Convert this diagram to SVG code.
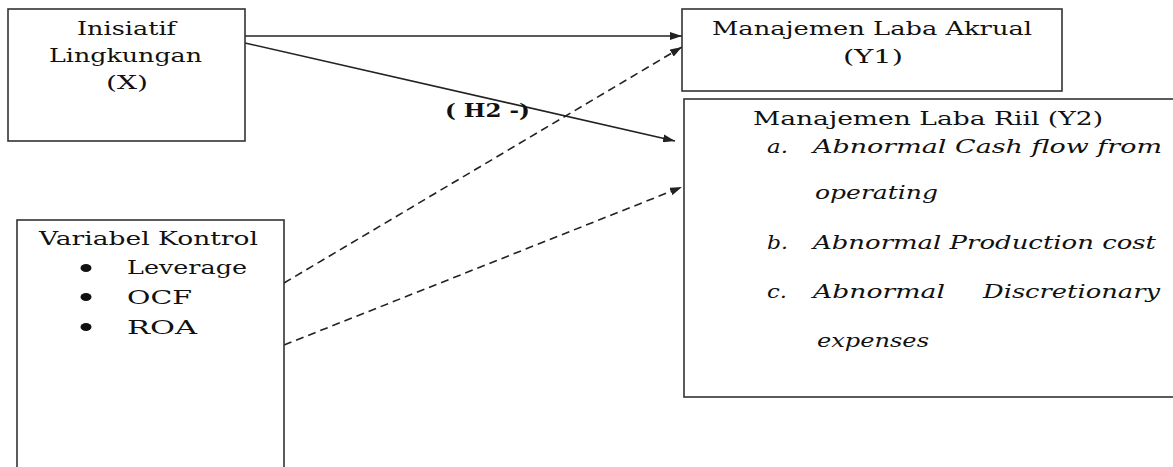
<svg xmlns="http://www.w3.org/2000/svg" width="1173" height="467" viewBox="0 0 1173 467">
<defs>
<style>
.box{fill:#fff;stroke:#333;stroke-width:1.6}
.t{font-family:'DejaVu Serif','Noto Serif','FreeSerif','Tinos',serif;font-size:19px;fill:#111}
.i{font-style:italic}
.b{font-weight:bold}
.ln{stroke:#222;stroke-width:1.6;fill:none}
.dash{stroke-dasharray:8 5}
</style>
<marker id="ah" viewBox="0 0 12 8" refX="12" refY="4" markerWidth="12" markerHeight="8" markerUnits="userSpaceOnUse" orient="auto">
<path d="M0,0 L12,4 L0,8 z" fill="#222"/>
</marker>
</defs>
<rect width="1173" height="467" fill="#fff"/>
<g id="connectors">
<line class="ln" x1="245" y1="36" x2="682" y2="36" marker-end="url(#ah)"/>
<line class="ln" x1="245" y1="43" x2="675" y2="141" marker-end="url(#ah)"/>
<line class="ln dash" x1="284" y1="283" x2="682" y2="47" marker-end="url(#ah)"/>
<line class="ln dash" x1="284" y1="345" x2="682" y2="187" marker-end="url(#ah)"/>
<text class="t b" x="445" y="117" textLength="85" lengthAdjust="spacingAndGlyphs">( H2 -)</text>
</g>
<g id="node-x">
<rect class="box" x="8" y="9" width="237" height="132"/>
<text class="t" x="77" y="35" textLength="99" lengthAdjust="spacingAndGlyphs">Inisiatif</text>
<text class="t" x="49" y="62" textLength="153" lengthAdjust="spacingAndGlyphs">Lingkungan</text>
<text class="t" x="106" y="89" textLength="42" lengthAdjust="spacingAndGlyphs">(X)</text>
</g>
<g id="node-y1">
<rect class="box" x="682" y="9" width="380" height="82"/>
<text class="t" x="712" y="35" textLength="320" lengthAdjust="spacingAndGlyphs">Manajemen Laba Akrual</text>
<text class="t" x="843" y="63" textLength="60" lengthAdjust="spacingAndGlyphs">(Y1)</text>
</g>
<g id="node-y2">
<rect class="box" x="684" y="99" width="500" height="298"/>
<text class="t" x="753" y="125" textLength="350" lengthAdjust="spacingAndGlyphs">Manajemen Laba Riil (Y2)</text>
<text class="t i" x="767" y="153" textLength="21" lengthAdjust="spacingAndGlyphs">a.</text>
<text class="t i" x="813" y="153" textLength="349" lengthAdjust="spacingAndGlyphs">Abnormal Cash flow from</text>
<text class="t i" x="815" y="199" textLength="123" lengthAdjust="spacingAndGlyphs">operating</text>
<text class="t i" x="767" y="249" textLength="21" lengthAdjust="spacingAndGlyphs">b.</text>
<text class="t i" x="813" y="249" textLength="343" lengthAdjust="spacingAndGlyphs">Abnormal Production cost</text>
<text class="t i" x="767" y="298" textLength="20" lengthAdjust="spacingAndGlyphs">c.</text>
<text class="t i" x="813" y="298" textLength="132" lengthAdjust="spacingAndGlyphs">Abnormal</text>
<text class="t i" x="983" y="298" textLength="177" lengthAdjust="spacingAndGlyphs">Discretionary</text>
<text class="t i" x="817" y="347" textLength="112" lengthAdjust="spacingAndGlyphs">expenses</text>
</g>
<g id="node-kontrol">
<rect class="box" x="17" y="220" width="267" height="260"/>
<text class="t" x="39" y="245" textLength="219" lengthAdjust="spacingAndGlyphs">Variabel Kontrol</text>
<ellipse cx="86" cy="268" rx="5.5" ry="4" fill="#111"/>
<ellipse cx="86" cy="297" rx="5.5" ry="4" fill="#111"/>
<ellipse cx="86" cy="327" rx="5.5" ry="4" fill="#111"/>
<text class="t" x="127" y="274" textLength="120" lengthAdjust="spacingAndGlyphs">Leverage</text>
<text class="t" x="127" y="304" textLength="65" lengthAdjust="spacingAndGlyphs">OCF</text>
<text class="t" x="127" y="334" textLength="70" lengthAdjust="spacingAndGlyphs">ROA</text>
</g>
</svg>
